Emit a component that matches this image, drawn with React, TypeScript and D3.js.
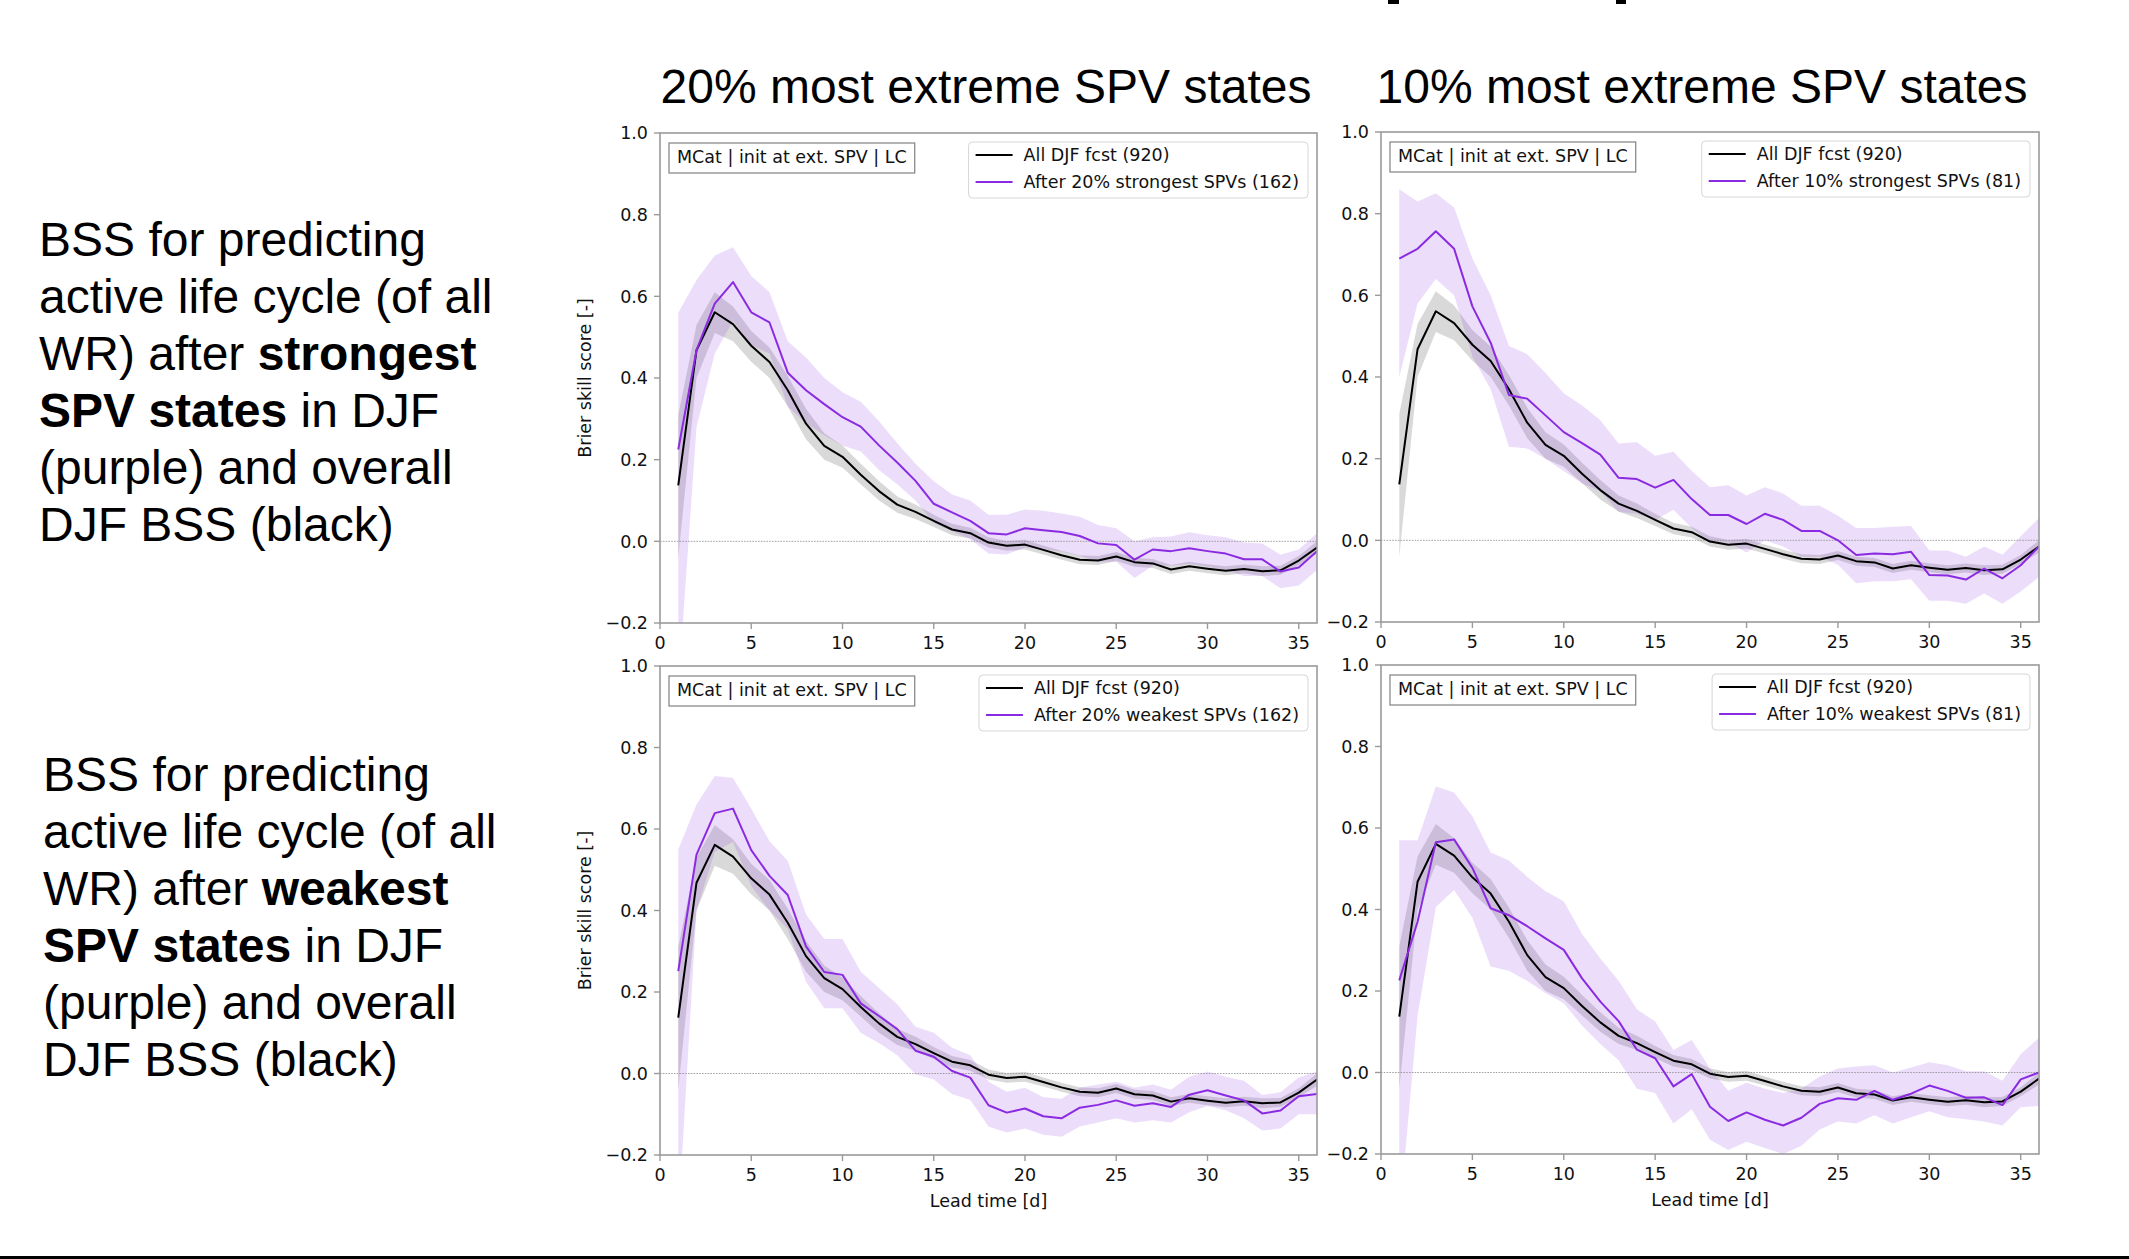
import React from "react";
import * as d3 from "d3";

// ---------- data ----------
const leadTimes = d3.range(1, 37);
const yTicks = [-0.2, 0, 0.2, 0.4, 0.6, 0.8, 1.0];
const xTicks = [0, 5, 10, 15, 20, 25, 30, 35];

const allDJF = [0.137, 0.468, 0.561, 0.532, 0.479, 0.439, 0.370, 0.288, 0.234, 0.207, 0.163, 0.123, 0.090, 0.072, 0.050, 0.029, 0.020, -0.003, -0.011, -0.008, -0.021, -0.034, -0.045, -0.047, -0.037, -0.051, -0.054, -0.069, -0.061, -0.067, -0.072, -0.068, -0.073, -0.071, -0.047, -0.015];
const allDJFLo = [-0.04, 0.40, 0.51, 0.49, 0.44, 0.40, 0.33, 0.25, 0.20, 0.18, 0.14, 0.10, 0.07, 0.055, 0.035, 0.015, 0.007, -0.015, -0.023, -0.02, -0.032, -0.045, -0.056, -0.058, -0.048, -0.062, -0.065, -0.08, -0.072, -0.078, -0.083, -0.079, -0.085, -0.082, -0.058, -0.03];
const allDJFHi = [0.31, 0.53, 0.61, 0.575, 0.515, 0.475, 0.405, 0.325, 0.265, 0.235, 0.19, 0.148, 0.11, 0.09, 0.065, 0.043, 0.033, 0.01, 0.001, 0.004, -0.01, -0.023, -0.034, -0.036, -0.026, -0.04, -0.043, -0.058, -0.05, -0.056, -0.061, -0.057, -0.061, -0.06, -0.036, 0.0];

const strong20 = [0.225, 0.468, 0.582, 0.635, 0.561, 0.536, 0.413, 0.370, 0.336, 0.304, 0.281, 0.235, 0.193, 0.148, 0.092, 0.071, 0.050, 0.020, 0.017, 0.032, 0.027, 0.023, 0.013, -0.005, -0.009, -0.045, -0.020, -0.024, -0.017, -0.024, -0.030, -0.044, -0.044, -0.074, -0.064, -0.024];
const strong20Hi = [0.56, 0.64, 0.70, 0.72, 0.65, 0.61, 0.49, 0.45, 0.40, 0.365, 0.342, 0.294, 0.24, 0.19, 0.147, 0.115, 0.10, 0.065, 0.065, 0.078, 0.075, 0.068, 0.06, 0.04, 0.032, 0.0, 0.01, 0.012, 0.022, 0.015, 0.01, -0.003, -0.005, -0.033, -0.02, 0.02];
const strong20Lo = [-0.36, 0.28, 0.46, 0.54, 0.48, 0.46, 0.33, 0.29, 0.26, 0.235, 0.22, 0.175, 0.14, 0.10, 0.045, 0.025, 0.005, -0.03, -0.032, -0.015, -0.02, -0.025, -0.035, -0.05, -0.05, -0.09, -0.06, -0.06, -0.055, -0.062, -0.07, -0.085, -0.085, -0.115, -0.108, -0.07];

const strong10 = [0.690, 0.714, 0.757, 0.714, 0.573, 0.484, 0.356, 0.347, 0.306, 0.265, 0.238, 0.210, 0.153, 0.150, 0.129, 0.148, 0.101, 0.062, 0.062, 0.040, 0.065, 0.050, 0.023, 0.023, 0.0, -0.036, -0.032, -0.034, -0.028, -0.085, -0.086, -0.096, -0.069, -0.093, -0.061, -0.015];
const strong10Hi = [0.86, 0.83, 0.85, 0.815, 0.69, 0.60, 0.476, 0.456, 0.41, 0.36, 0.33, 0.294, 0.237, 0.24, 0.207, 0.217, 0.17, 0.13, 0.135, 0.11, 0.13, 0.115, 0.085, 0.085, 0.06, 0.03, 0.03, 0.033, 0.035, -0.025, -0.025, -0.04, -0.015, -0.035, 0.01, 0.055];
const strong10Lo = [0.40, 0.58, 0.64, 0.60, 0.45, 0.37, 0.229, 0.225, 0.20, 0.17, 0.14, 0.12, 0.07, 0.065, 0.05, 0.075, 0.03, -0.005, -0.005, -0.03, 0.0, -0.015, -0.04, -0.04, -0.06, -0.105, -0.10, -0.10, -0.095, -0.148, -0.148, -0.155, -0.13, -0.155, -0.125, -0.09];

const weak20 = [0.251, 0.537, 0.639, 0.650, 0.548, 0.485, 0.438, 0.312, 0.249, 0.242, 0.172, 0.141, 0.109, 0.056, 0.041, 0.006, -0.010, -0.078, -0.096, -0.086, -0.105, -0.110, -0.084, -0.077, -0.066, -0.079, -0.073, -0.082, -0.052, -0.041, -0.054, -0.066, -0.098, -0.091, -0.056, -0.050];
const weak20Hi = [0.55, 0.66, 0.73, 0.725, 0.65, 0.57, 0.522, 0.39, 0.33, 0.33, 0.25, 0.21, 0.17, 0.115, 0.10, 0.063, 0.045, -0.02, -0.045, -0.035, -0.058, -0.062, -0.035, -0.027, -0.02, -0.035, -0.027, -0.04, -0.008, 0.005, -0.008, -0.018, -0.053, -0.046, -0.01, 0.005];
const weak20Lo = [-0.36, 0.40, 0.544, 0.569, 0.46, 0.40, 0.355, 0.225, 0.16, 0.16, 0.10, 0.075, 0.045, -0.002, -0.015, -0.05, -0.065, -0.13, -0.145, -0.135, -0.15, -0.155, -0.13, -0.12, -0.11, -0.12, -0.115, -0.12, -0.095, -0.08, -0.09, -0.11, -0.14, -0.135, -0.10, -0.10];

const weak10 = [0.226, 0.370, 0.565, 0.572, 0.502, 0.403, 0.386, 0.359, 0.329, 0.301, 0.231, 0.174, 0.126, 0.056, 0.035, -0.034, -0.004, -0.084, -0.119, -0.098, -0.116, -0.130, -0.111, -0.077, -0.063, -0.067, -0.045, -0.067, -0.052, -0.032, -0.045, -0.062, -0.061, -0.080, -0.017, 0.0];
const weak10Hi = [0.57, 0.57, 0.702, 0.687, 0.629, 0.54, 0.52, 0.48, 0.445, 0.42, 0.34, 0.28, 0.225, 0.155, 0.125, 0.055, 0.08, 0.01, -0.045, -0.025, -0.04, -0.05, -0.04, -0.01, 0.01, 0.015, 0.018, 0.0, 0.012, 0.025, 0.018, 0.003, 0.003, -0.02, 0.045, 0.085];
const weak10Lo = [-0.36, 0.139, 0.406, 0.448, 0.38, 0.26, 0.25, 0.225, 0.195, 0.17, 0.115, 0.07, 0.03, -0.04, -0.05, -0.125, -0.09, -0.165, -0.19, -0.17, -0.185, -0.2, -0.18, -0.14, -0.12, -0.125, -0.105, -0.125, -0.11, -0.095, -0.11, -0.115, -0.12, -0.13, -0.085, -0.082];

const allLabel = "All DJF fcst (920)";
const infoLabel = "MCat | init at ext. SPV | LC";
const columnTitles = ["20% most extreme SPV states", "10% most extreme SPV states"];
const textStrong = [
  ["BSS for predicting"],
  ["active life cycle (of all"],
  ["WR) after ", "strongest"],
  ["SPV states", " in DJF"],
  ["(purple) and overall"],
  ["DJF BSS (black)"],
];
const textWeak = [
  ["BSS for predicting"],
  ["active life cycle (of all"],
  ["WR) after ", "weakest"],
  ["SPV states", " in DJF"],
  ["(purple) and overall"],
  ["DJF BSS (black)"],
];

// ---------- style ----------
const PURPLE = "#8a2be2";
const TICK_FONT = "'DejaVu Sans', sans-serif";
const SLIDE_FONT = "'Liberation Sans', Arial, sans-serif";
const FS = 17.5;
const SPINE = "#9a9a9a";

function measure(text: string, font: string) {
  if (typeof document === "undefined") return text.length * 10;
  const c = document.createElement("canvas");
  const ctx = c.getContext("2d");
  if (!ctx) return text.length * 10;
  ctx.font = font;
  return ctx.measureText(text).width;
}

const fmt = (v: number) => {
  const s = Math.abs(v).toFixed(1);
  return v < -1e-9 ? "\u2212" + s : s;
};

type PanelProps = {
  id: string;
  box: [number, number, number, number];
  line: number[];
  lo: number[];
  hi: number[];
  label: string;
  ylabel: boolean;
  xlabel: boolean;
};

function Panel({ id, box, line, lo, hi, label, ylabel, xlabel }: PanelProps) {
  const [x0, y0, x1, y1] = box;
  const x = d3.scaleLinear().domain([0, 36]).range([x0, x1]);
  const y = d3.scaleLinear().domain([-0.2, 1.0]).range([y1, y0]);
  const band = (l: number[], h: number[]) =>
    d3
      .area<number>()
      .x((_, i) => x(leadTimes[i]))
      .y0((_, i) => y(l[i]))
      .y1((_, i) => y(h[i]))(leadTimes) || "";
  const ln = (v: number[]) =>
    d3
      .line<number>()
      .x((_, i) => x(leadTimes[i]))
      .y((d) => y(d))(v) || "";

  const legFont = `${FS}px ${TICK_FONT}`;
  const tw = Math.max(measure(allLabel, legFont), measure(label, legFont));
  const legW = 55 + tw + 9;
  const legX = x1 - 9 - legW;
  const legY = y0 + 9;
  const infoW = measure(infoLabel, legFont) + 16;
  const clip = `clip-${id}`;

  return (
    <g>
      <defs>
        <clipPath id={clip}>
          <rect x={x0} y={y0} width={x1 - x0} height={y1 - y0} />
        </clipPath>
      </defs>
      <g clipPath={`url(#${clip})`}>
        <path d={band(allDJFLo, allDJFHi)} fill="#000" fillOpacity={0.15} />
        <path d={band(lo, hi)} fill={PURPLE} fillOpacity={0.16} />
        <line x1={x0} x2={x1} y1={y(0)} y2={y(0)} stroke="#8c8c8c" strokeWidth={0.8} strokeDasharray="1.6,1.2" />
        <path d={ln(allDJF)} fill="none" stroke="#000" strokeWidth={2} strokeLinejoin="round" />
        <path d={ln(line)} fill="none" stroke={PURPLE} strokeWidth={2} strokeLinejoin="round" />
      </g>
      <rect x={x0} y={y0} width={x1 - x0} height={y1 - y0} fill="none" stroke={SPINE} strokeWidth={1.6} />
      {yTicks.map((t) => (
        <g key={"y" + t}>
          <line x1={x0 - 6} x2={x0} y1={y(t)} y2={y(t)} stroke={SPINE} strokeWidth={1.4} />
          <text x={x0 - 12} y={y(t)} dy="0.36em" textAnchor="end" fontFamily={TICK_FONT} fontSize={FS} fill="#111">
            {fmt(t)}
          </text>
        </g>
      ))}
      {xTicks.map((t) => (
        <g key={"x" + t}>
          <line x1={x(t)} x2={x(t)} y1={y1} y2={y1 + 6} stroke={SPINE} strokeWidth={1.4} />
          <text x={x(t)} y={y1 + 25.5} textAnchor="middle" fontFamily={TICK_FONT} fontSize={FS} fill="#111">
            {t}
          </text>
        </g>
      ))}
      {ylabel && (
        <text
          transform={`translate(${x0 - 75},${(y0 + y1) / 2}) rotate(-90)`}
          textAnchor="middle"
          dy="0.36em"
          fontFamily={TICK_FONT}
          fontSize={FS}
          fill="#111"
        >
          Brier skill score [-]
        </text>
      )}
      {xlabel && (
        <text x={(x0 + x1) / 2} y={y1 + 52} textAnchor="middle" fontFamily={TICK_FONT} fontSize={FS} fill="#111">
          Lead time [d]
        </text>
      )}
      {/* info box */}
      <rect x={x0 + 9} y={y0 + 10} width={infoW} height={30} fill="#fff" stroke="#808080" strokeWidth={1.2} />
      <text x={x0 + 17} y={y0 + 24} dy="0.36em" fontFamily={TICK_FONT} fontSize={FS} fill="#111">
        {infoLabel}
      </text>
      {/* legend */}
      <rect x={legX} y={legY} width={legW} height={56} rx={4} fill="#fff" fillOpacity={0.8} stroke="#d6d6d6" strokeWidth={1} />
      <line x1={legX + 7} x2={legX + 44} y1={legY + 13} y2={legY + 13} stroke="#000" strokeWidth={2} />
      <text x={legX + 55} y={legY + 13} dy="0.36em" fontFamily={TICK_FONT} fontSize={FS} fill="#111">
        {allLabel}
      </text>
      <line x1={legX + 7} x2={legX + 44} y1={legY + 40} y2={legY + 40} stroke={PURPLE} strokeWidth={2} />
      <text x={legX + 55} y={legY + 40} dy="0.36em" fontFamily={TICK_FONT} fontSize={FS} fill="#111">
        {label}
      </text>
    </g>
  );
}

function TextBlock({ lines, x, y0, step, boldIdx }: { lines: string[][]; x: number; y0: number; step: number; boldIdx: number[][] }) {
  return (
    <g fontFamily={SLIDE_FONT} fontSize={48} fill="#000">
      {lines.map((parts, i) => (
        <text key={i} x={x} y={y0 + i * step}>
          {parts.map((p, j) => (
            <tspan key={j} fontWeight={boldIdx.some(([a, b]) => a === i && b === j) ? "bold" : "normal"}>
              {p}
            </tspan>
          ))}
        </text>
      ))}
    </g>
  );
}

export default function App() {
  const panels: PanelProps[] = [
    { id: "tl", box: [660, 133, 1317, 623], line: strong20, lo: strong20Lo, hi: strong20Hi, label: "After 20% strongest SPVs (162)", ylabel: true, xlabel: false },
    { id: "tr", box: [1381, 132, 2039, 622], line: strong10, lo: strong10Lo, hi: strong10Hi, label: "After 10% strongest SPVs (81)", ylabel: false, xlabel: false },
    { id: "bl", box: [660, 666, 1317, 1155], line: weak20, lo: weak20Lo, hi: weak20Hi, label: "After 20% weakest SPVs (162)", ylabel: true, xlabel: true },
    { id: "br", box: [1381, 665, 2039, 1154], line: weak10, lo: weak10Lo, hi: weak10Hi, label: "After 10% weakest SPVs (81)", ylabel: false, xlabel: true },
  ];
  return (
    <svg
      width={2129}
      height={1259}
      viewBox="0 0 2129 1259"
      style={{ position: "absolute", left: 0, top: 0, background: "#fff" }}
    >
      <rect x={0} y={0} width={2129} height={1259} fill="#fff" />
      {/* clipped fragments of slide heading */}
      <rect x={1388} y={0} width={11} height={4} fill="#000" />
      <rect x={1616} y={0} width={10} height={4} fill="#000" />
      <text x={986} y={103} textAnchor="middle" fontFamily={SLIDE_FONT} fontSize={48} fill="#000">
        {columnTitles[0]}
      </text>
      <text x={1702} y={103} textAnchor="middle" fontFamily={SLIDE_FONT} fontSize={48} fill="#000">
        {columnTitles[1]}
      </text>
      <TextBlock lines={textStrong} x={39} y0={256} step={57} boldIdx={[[2, 1], [3, 0]]} />
      <TextBlock lines={textWeak} x={43} y0={791} step={57} boldIdx={[[2, 1], [3, 0]]} />
      {panels.map((p) => (
        <Panel key={p.id} {...p} />
      ))}
      <rect x={0} y={1256} width={2129} height={3} fill="#000" />
    </svg>
  );
}
